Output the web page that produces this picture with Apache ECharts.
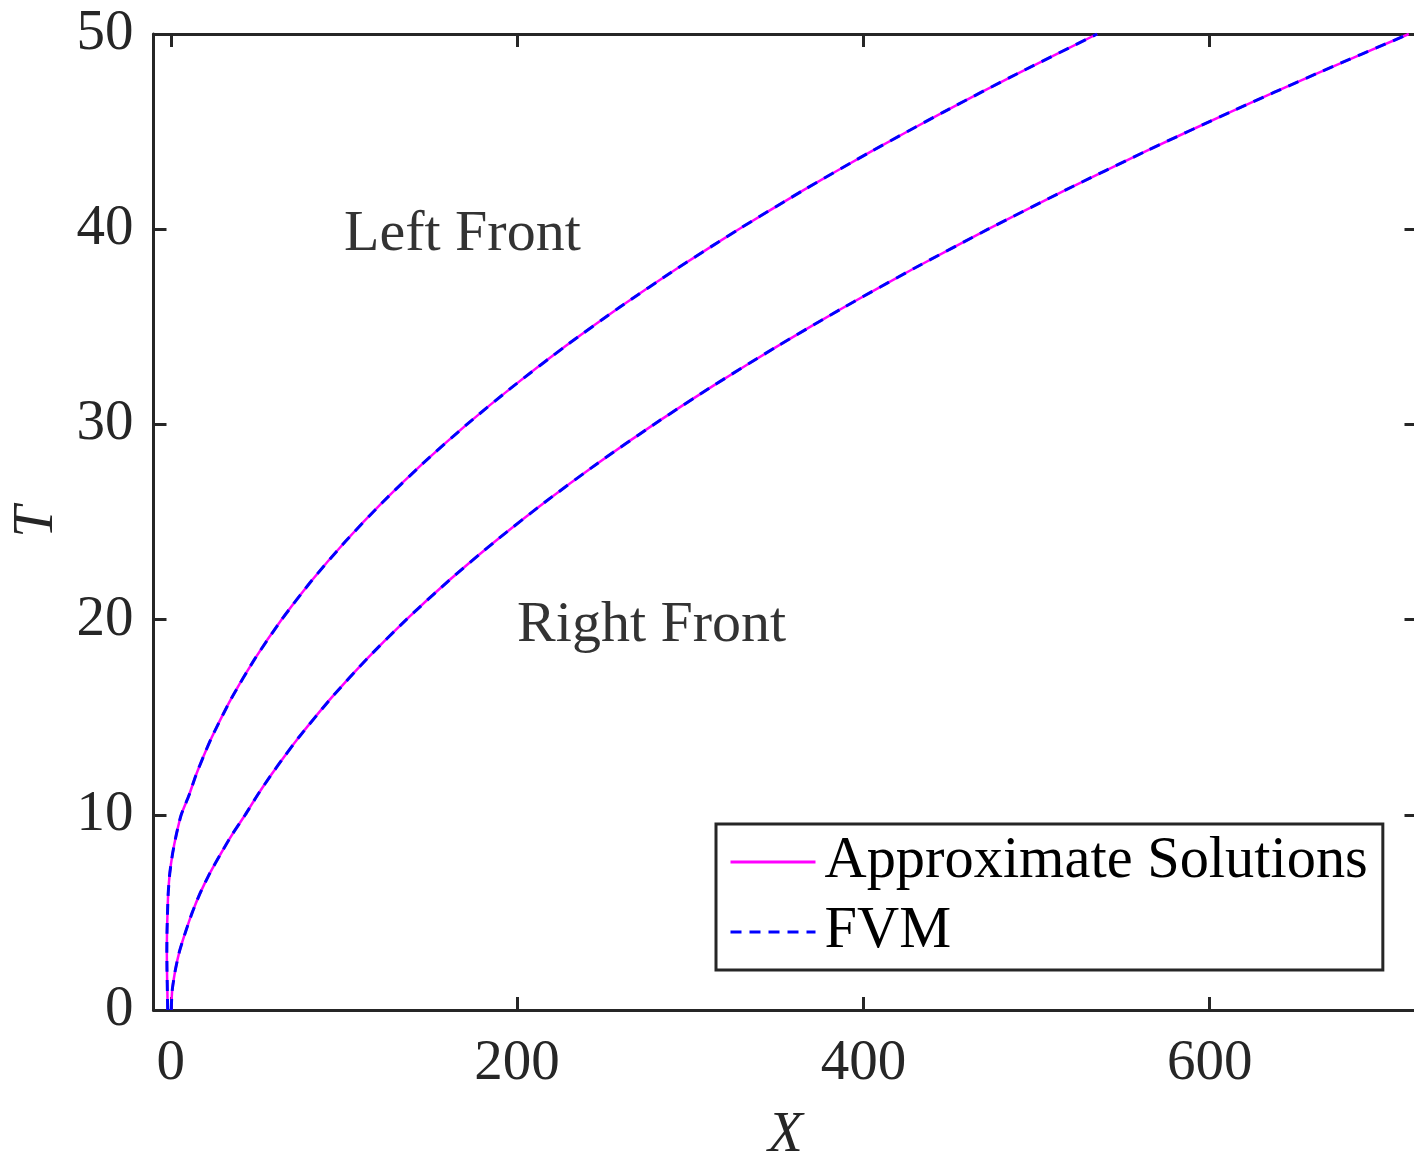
<!DOCTYPE html>
<html>
<head>
<meta charset="utf-8">
<script src="https://cdn.jsdelivr.net/npm/echarts@6/dist/echarts.min.js"></script>
<style>html,body{margin:0;padding:0;background:#fff}#c{width:1414px;height:1157px}</style>
</head>
<body>
<div id="c"></div>
<script>
// Time values (T axis)
const tValues = [0,1,2,3,4,5,6,7,8,9,10,11,12,13,14,16,18,20,22,24,26,28,30,32,34,36,38,40,42,44,46,48,50];
// Left front position X(T)
const approxLeft = [-1.8,-2,-2.2,-2.3,-2.2,-1.9,-1.5,-0.6,1,3.2,6,10.5,14.4,18.9,23.8,35.2,48.6,64,81.4,100.8,122.2,145.6,171,198.4,227.8,259.2,292.6,328,365.4,404.8,446.2,489.6,535];
const fvmLeft    = [-1.8,-2,-2.2,-2.3,-2.2,-1.9,-1.5,-0.6,1,3.2,6,10.5,14.4,18.9,23.8,35.2,48.6,64,81.4,100.8,122.2,145.6,171,198.4,227.8,259.2,292.6,328,365.4,404.8,446.2,489.6,535];
// Right front position X(T)
const approxRight = [0.2,0.8,2.5,5,8.5,12.4,17,22.5,28.8,35.5,43,50,57.6,65.7,74.2,92.8,113.4,136,160.6,187.2,215.8,246.4,279,313.6,350.2,388.8,429.4,472,516.6,563.2,611.8,662.4,715];
const fvmRight    = [0.2,0.8,2.5,5,8.5,12.4,17,22.5,28.8,35.5,43,50,57.6,65.7,74.2,92.8,113.4,136,160.6,187.2,215.8,246.4,279,313.6,350.2,388.8,429.4,472,516.6,563.2,611.8,662.4,715];
const xTicks = [0,200,400,600];
const annotations = [
  {x:100, y:40, text:'Left Front'},
  {x:200, y:20, text:'Right Front'}
];

const FONT = '"Liberation Serif","Times New Roman",serif';
const AX = '#262626';
const pairs = (xs) => tValues.map((t,i) => [xs[i], t]);

const chart = echarts.init(document.getElementById('c'), null, {renderer:'canvas'});
const axisBase = {
  type:'value',
  axisLine:{show:true, onZero:false, lineStyle:{color:AX, width:3}},
  splitLine:{show:false},
};
chart.setOption({
  animation:false,
  backgroundColor:'#fff',
  grid:{left:153.5, top:34, width:1264, height:976, containLabel:false, outerBoundsMode:'none'},
  xAxis:[
    Object.assign({}, axisBase, {
      position:'bottom', min:-10, max:720,
      axisTick:{show:true, inside:true, length:13, lineStyle:{color:AX, width:3}, customValues:xTicks},
      axisLabel:{show:true, customValues:xTicks, margin:26, fontFamily:FONT, fontSize:57, color:AX},
      name:'X', nameLocation:'middle', nameGap:98,
      nameTextStyle:{fontFamily:FONT, fontSize:57, fontStyle:'italic', color:AX}
    }),
    Object.assign({}, axisBase, {
      position:'top', min:-10, max:720,
      axisTick:{show:true, inside:true, length:13, lineStyle:{color:AX, width:3}, customValues:xTicks},
      axisLabel:{show:false}
    })
  ],
  yAxis:[
    Object.assign({}, axisBase, {
      position:'left', min:0, max:50, interval:10,
      axisTick:{show:true, inside:true, length:13, lineStyle:{color:AX, width:3}},
      axisLabel:{show:true, margin:20, fontFamily:FONT, fontSize:57, color:AX},
      name:'T', nameLocation:'middle', nameGap:88, nameRotate:90,
      nameTextStyle:{fontFamily:FONT, fontSize:57, fontStyle:'italic', color:AX}
    }),
    Object.assign({}, axisBase, {
      position:'right', min:0, max:50, interval:10,
      axisTick:{show:true, inside:true, length:13, lineStyle:{color:AX, width:3}},
      axisLabel:{show:false}
    })
  ],
  legend:{
    data:['Approximate Solutions','FVM'],
    orient:'vertical', left:716, top:824,
    padding:[8,15,8,13], itemGap:10, itemWidth:85, itemHeight:14,
    borderColor:AX, borderWidth:3, backgroundColor:'#fff',
    itemStyle:{opacity:0},
    lineStyle:{width:3},
    textStyle:{fontFamily:FONT, fontSize:58.4, color:'#000', lineHeight:60, padding:[0,0,0,4]},
    selectedMode:false
  },
  series:[
    {name:'Approximate Solutions', type:'line', data:pairs(approxLeft), symbol:'none', smooth:0.2,
     lineStyle:{color:'#FF00FF', width:2.5}, itemStyle:{color:'#FF00FF'}, z:2},
    {name:'Approximate Solutions', type:'line', data:pairs(approxRight), symbol:'none', smooth:0.2,
     lineStyle:{color:'#FF00FF', width:2.5}, itemStyle:{color:'#FF00FF'}, z:2},
    {name:'FVM', type:'line', data:pairs(fvmLeft), symbol:'none', smooth:0.2,
     lineStyle:{color:'#0000FF', width:3, type:[11,8]}, itemStyle:{color:'#0000FF'}, z:3},
    {name:'FVM', type:'line', data:pairs(fvmRight), symbol:'none', smooth:0.2,
     lineStyle:{color:'#0000FF', width:3, type:[11,8]}, itemStyle:{color:'#0000FF'}, z:3},
    {type:'scatter', symbolSize:0, silent:true, z:4,
     data:annotations.map(a => ({value:[a.x, a.y], label:{formatter:a.text}})),
     label:{show:true, position:'right', distance:0, offset:[0,6], fontFamily:FONT, fontSize:58, color:'#000'}}
  ]
});
</script>
</body>
</html>
